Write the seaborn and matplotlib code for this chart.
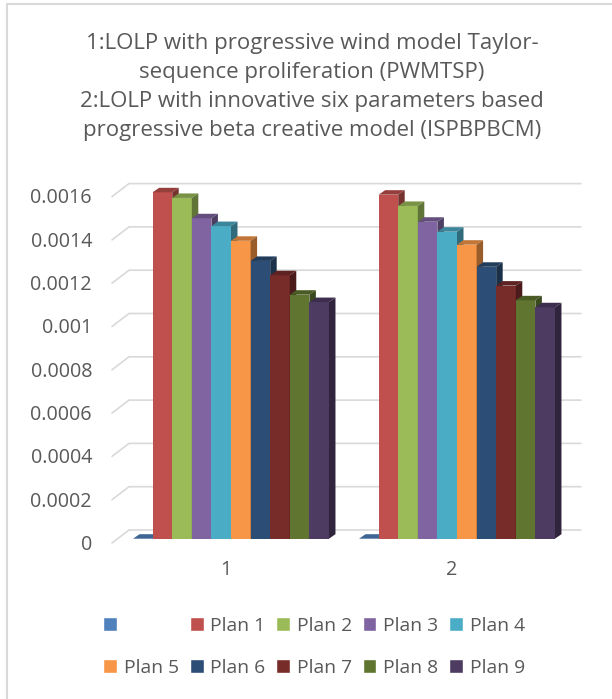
import pandas as pd
import seaborn as sns
import matplotlib.pyplot as plt
from matplotlib.colors import to_rgb
from matplotlib.lines import Line2D
from matplotlib.patches import Polygon
from matplotlib.transforms import ScaledTranslation

# Values
categories = ["1", "2"]
plans = [" ", "Plan 1", "Plan 2", "Plan 3", "Plan 4", "Plan 5", "Plan 6", "Plan 7", "Plan 8", "Plan 9"]
values_1 = [0, 0.0016, 0.001574, 0.00148, 0.001444, 0.001376, 0.001283, 0.001217, 0.001127, 0.001093]
values_2 = [0, 0.001589, 0.001537, 0.001464, 0.001418, 0.001358, 0.001256, 0.001169, 0.001101, 0.001069]
colors = ["#4F81BD", "#C0504D", "#9BBB59", "#8064A2", "#4BACC6",
          "#F79646", "#2C4D75", "#772C2A", "#5F7530", "#4D3B62"]
y_ticks = [0, 0.0002, 0.0004, 0.0006, 0.0008, 0.001, 0.0012, 0.0014, 0.0016]
y_labels = ["0", "0.0002", "0.0004", "0.0006", "0.0008", "0.001", "0.0012", "0.0014", "0.0016"]
title = ("1:LOLP with progressive wind model Taylor-\n"
         "sequence proliferation (PWMTSP)\n"
         "2:LOLP with innovative six parameters based\n"
         "progressive beta creative model (ISPBPBCM)")

df = pd.DataFrame({
    "category": [categories[0]] * len(plans) + [categories[1]] * len(plans),
    "plan": plans + plans,
    "value": values_1 + values_2,
})

sns.set_style("white")
plt.rcParams["font.family"] = "Open Sans"
text_color = "#595959"
grid_color = "#D9D9D9"

W, H = 612, 699
fig = plt.figure(figsize=(W / 100, H / 100), dpi=100)

# axes is the front plane of the bars, in pixels of the reference
px_left, px_right, px_zero, px_per_tick = 118, 570, 538.7, 43.3
ymax = 0.0018
ax_h = px_per_tick * ymax / 0.0002
ax = fig.add_axes([px_left / W, (H - px_zero) / H, (px_right - px_left) / W, ax_h / H])

sns.barplot(data=df, x="category", y="value", hue="plan", hue_order=plans, palette=colors,
            saturation=1, width=0.867, gap=0, errorbar=None, ax=ax)
ax.set_xlim(-0.5, 1.5)
ax.set_ylim(0, ymax)
ax.set_xlabel("")
ax.set_ylabel("")
sns.despine(ax=ax, left=True, bottom=True)
ax.patch.set_alpha(0)

# pixel to data helpers
dx = 2 / (px_right - px_left)
dy = 0.0002 / px_per_tick


def shade(color, f):
    return tuple(c * f for c in to_rgb(color))


# 3D look: top and side faces added to every bar
bars = sorted([p for p in ax.patches if p.get_width() > 0], key=lambda p: p.get_x())
for i, p in enumerate(bars):
    x0, x1 = p.get_x(), p.get_x() + p.get_width()
    top = p.get_height()
    sx, sy = 6.5 * dx, 4.5 * dy
    p.set_zorder(3 + i * 0.1)
    p.set_edgecolor("none")
    ax.add_patch(Polygon([(x0, top), (x1, top), (x1 + sx, top + sy), (x0 + sx, top + sy)],
                         facecolor=shade(p.get_facecolor(), 0.78), edgecolor="none",
                         zorder=3 + i * 0.1))
    if top > 0:
        ax.add_patch(Polygon([(x1, 0), (x1 + sx, sy), (x1 + sx, top + sy), (x1, top)],
                             facecolor=shade(p.get_facecolor(), 0.62), edgecolor="none",
                             zorder=3 + i * 0.1))

# gridlines on the wall with the slanted part on the side wall
x_front = -0.5 + (112 - px_left) * dx
x_back = -0.5 + (129 - px_left) * dx
x_end = -0.5 + (581 - px_left) * dx
for v in y_ticks:
    ax.plot([x_front, x_back, x_end], [v - 4.3 * dy, v + 8.7 * dy, v + 8.7 * dy],
            color=grid_color, lw=1.2, zorder=1, clip_on=False)

ax.set_yticks(y_ticks)
ax.set_yticklabels(y_labels)
ax.tick_params(axis="both", length=0, colors=text_color, labelsize=14.2)
ax.tick_params(axis="y", pad=0)
# labels sit next to the front end of the gridlines
for lab in ax.get_yticklabels():
    lab.set_transform(lab.get_transform() + ScaledTranslation(-26 / 100, -3.6 / 100, fig.dpi_scale_trans))
for lab in ax.get_xticklabels():
    lab.set_transform(lab.get_transform() + ScaledTranslation(-5 / 100, -16 / 100, fig.dpi_scale_trans))

# legend filled column by column, so plans are given in that order
handles, labels = ax.get_legend_handles_labels()
order = [0, 5, 1, 6, 2, 7, 3, 8, 4, 9]
ax.legend([handles[i] for i in order], [labels[i] for i in order], ncol=5, frameon=False,
          loc="center", bbox_to_anchor=(314 / W, (H - 647) / H), bbox_transform=fig.transFigure,
          fontsize=13.9, labelcolor=text_color, handlelength=0.72, handleheight=0.72,
          handletextpad=0.35, columnspacing=0.55, labelspacing=1.25, borderpad=0)

fig.text(312 / W, 1 - 87 / H, title, ha="center", va="center", color=text_color,
         fontsize=16, linespacing=1.5)

# chart frame, only the top and left edges show in the crop
fig.add_artist(Line2D([7 / W, 7 / W], [0, 1 - 4 / H], color=grid_color, lw=1.5))
fig.add_artist(Line2D([7 / W, 1], [1 - 4 / H, 1 - 4 / H], color=grid_color, lw=1.5))

plt.savefig("out.png", dpi=100)
